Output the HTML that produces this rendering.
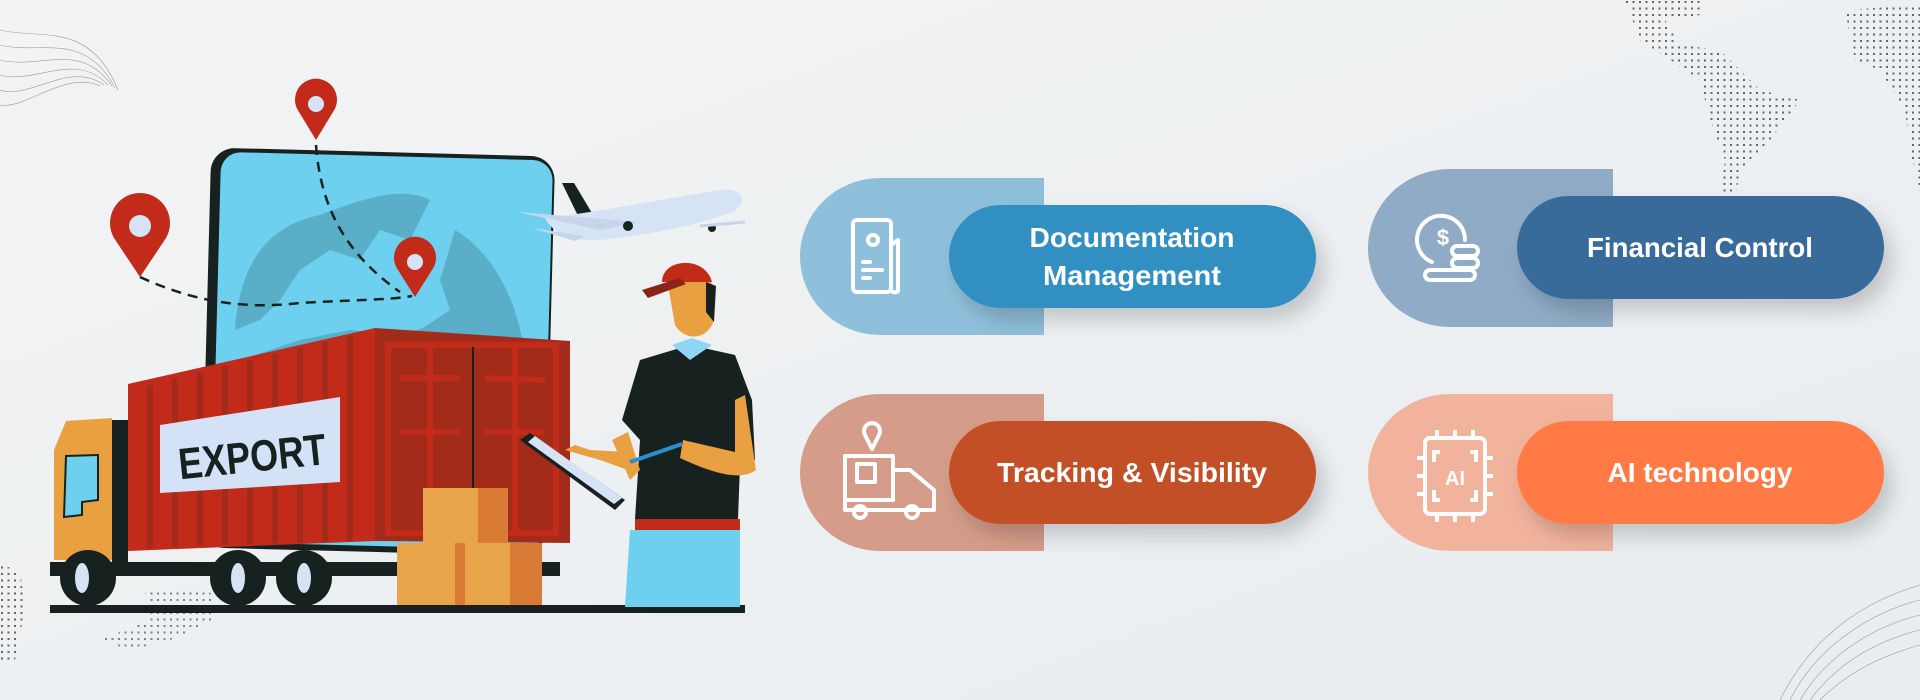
<!DOCTYPE html>
<html><head><meta charset="utf-8">
<style>
html,body{margin:0;padding:0;width:1920px;height:700px;overflow:hidden;background:#eef1f3;}
.t{font-family:"Liberation Sans",sans-serif;font-weight:bold;fill:#fff;}
</style></head>
<body>
<svg width="1920" height="700" viewBox="0 0 1920 700" xmlns="http://www.w3.org/2000/svg">
<defs>
<pattern id="dots" width="6.5" height="6.5" patternUnits="userSpaceOnUse"><rect x="1" y="1" width="2" height="2" fill="#666"/></pattern>
<linearGradient id="bg" x1="0" y1="0" x2="1" y2="1"><stop offset="0" stop-color="#f2f3f4"/><stop offset="1" stop-color="#e8edf0"/></linearGradient>
<filter id="sh" x="-20%" y="-20%" width="140%" height="160%"><feDropShadow dx="8" dy="12" stdDeviation="10" flood-color="#000" flood-opacity="0.18"/></filter>
</defs>
<rect width="1920" height="700" fill="url(#bg)"/>

<!-- decorations -->
<g stroke="#777" stroke-width="0.6" fill="none" opacity="0.7">
<path d="M0 30 C40 40 90 20 118 90"/><path d="M0 45 C40 55 85 30 115 88"/><path d="M0 60 C40 70 80 40 112 86"/><path d="M0 75 C35 85 75 50 108 85"/><path d="M0 90 C30 100 70 60 104 85"/><path d="M0 105 C25 110 65 70 100 86"/>
<path d="M1920 600 C1880 610 1820 640 1790 700"/><path d="M1920 615 C1880 625 1830 650 1800 700"/><path d="M1920 630 C1880 640 1840 660 1810 700"/><path d="M1920 645 C1885 655 1850 670 1820 700"/><path d="M1920 585 C1870 600 1815 630 1780 700"/>
</g>
<path d="M1625 0 L1700 0 L1700 15 L1665 20 L1680 45 L1720 50 L1760 90 L1800 100 L1770 140 L1740 170 L1735 200 L1720 200 L1725 160 L1710 120 L1700 80 L1670 60 L1640 40 Z" fill="url(#dots)"/>
<path d="M1845 10 L1920 5 L1920 190 L1910 150 L1905 110 L1880 70 L1855 60 Z" fill="url(#dots)"/>
<path d="M0 565 L20 570 L25 610 L15 660 L0 660 Z" fill="url(#dots)"/>
<path d="M145 590 L210 590 L215 620 L170 640 L130 650 L100 640 L150 620 Z" fill="url(#dots)" opacity="0.8"/>

<!-- monitor -->
<rect x="206" y="152" width="344" height="400" rx="24" fill="#172220" transform="rotate(1.5 378 350)"/>
<rect x="216" y="156" width="332" height="390" rx="20" fill="#6dd0ef" transform="rotate(1.5 378 350)"/>
<clipPath id="mc"><rect x="216" y="156" width="332" height="390" rx="20" transform="rotate(1.5 378 350)"/></clipPath>
<g clip-path="url(#mc)" fill="#5aaec8">
<path d="M235 330 C240 260 270 225 320 215 C360 200 400 185 430 200 L410 240 L380 230 L360 260 L330 250 L300 270 L280 300 L260 320 Z"/>
<path d="M455 230 C490 250 520 300 525 360 L480 380 L440 370 L420 330 L450 310 L440 280 Z"/>
<path d="M240 360 L300 340 L350 330 L400 335 L450 320 L500 340 L520 400 L240 410 Z"/>
</g>
<!-- dashed routes -->
<path d="M140 277 C190 300 240 310 300 303 C350 300 390 300 412 296" stroke="#172220" stroke-width="2.5" fill="none" stroke-dasharray="10 7"/>
<path d="M316 145 C320 200 340 250 400 292" stroke="#172220" stroke-width="2.5" fill="none" stroke-dasharray="10 7"/>
<!-- pins -->
<g fill="#c22a1a">
<path d="M316 140 L299 112 A21 21 0 1 1 333 112 Z"/><circle cx="316" cy="104" r="8" fill="#d6e3f5"/>
<path d="M140 277 L114 238 A30 30 0 1 1 166 238 Z"/><circle cx="140" cy="226" r="11" fill="#d6e3f5"/>
<path d="M415 297 L398 270 A21 21 0 1 1 432 270 Z"/><circle cx="415" cy="262" r="8" fill="#d6e3f5"/>
</g>
<!-- plane -->
<g>
<path d="M562 183 L574 183 L595 218 L580 220 Z" fill="#172220"/>
<path d="M545 218 C600 212 680 196 720 190 C742 187 748 200 736 210 C700 226 640 236 600 240 C570 242 552 232 545 218 Z" fill="#d6e3f5"/>
<path d="M517 212 L640 222 L600 230 Z" fill="#c8d4ea"/>
<path d="M532 228 L585 236 L575 241 Z" fill="#c8d4ea"/>
<circle cx="628" cy="226" r="5" fill="#172220"/><circle cx="712" cy="228" r="4" fill="#172220"/>
<path d="M700 226 L745 222" stroke="#c8d4ea" stroke-width="3"/>
</g>
<!-- container -->
<path d="M128 384 L375 328 L375 541 L128 551 Z" fill="#c22a1a"/>
<g stroke="#a32b1a" stroke-width="6">
<line x1="150" y1="385" x2="150" y2="548"/><line x1="175" y1="378" x2="175" y2="547"/><line x1="200" y1="372" x2="200" y2="546"/><line x1="225" y1="366" x2="225" y2="545"/><line x1="250" y1="360" x2="250" y2="544"/><line x1="275" y1="354" x2="275" y2="543"/><line x1="300" y1="348" x2="300" y2="543"/><line x1="325" y1="342" x2="325" y2="542"/><line x1="350" y1="336" x2="350" y2="541"/>
</g>
<path d="M375 328 L570 341 L570 543 L375 541 Z" fill="#a32b1a"/>
<g stroke="#c22a1a" stroke-width="6" fill="none">
<rect x="388" y="345" width="168" height="188"/>
<line x1="430" y1="345" x2="430" y2="533"/><line x1="515" y1="345" x2="515" y2="533"/>
<line x1="400" y1="378" x2="460" y2="378"/><line x1="485" y1="378" x2="545" y2="380"/>
<line x1="400" y1="432" x2="460" y2="432"/><line x1="485" y1="432" x2="545" y2="432"/>
</g>
<line x1="473" y1="347" x2="473" y2="533" stroke="#172220" stroke-width="2"/>
<path d="M160 425 L340 397 L340 482 L160 493 Z" fill="#d4e2f7"/>
<text x="178" y="472" font-family="Liberation Sans,sans-serif" font-weight="bold" font-size="44" fill="#172220" textLength="148" lengthAdjust="spacingAndGlyphs" transform="rotate(-6 250 455)">EXPORT</text>
<!-- cab -->
<path d="M66 421 L112 418 L112 560 L54 560 L54 450 Z" fill="#e8a040"/>
<path d="M66 456 L98 455 L98 500 L82 502 L82 515 L64 517 Z" fill="#6dd0ef" stroke="#172220" stroke-width="2"/>
<rect x="112" y="420" width="16" height="142" fill="#172220"/>
<rect x="50" y="562" width="510" height="14" fill="#172220"/>
<g fill="#172220"><circle cx="88" cy="578" r="28"/><circle cx="238" cy="578" r="28"/><circle cx="304" cy="578" r="28"/></g>
<g fill="#d6e3f5"><ellipse cx="82" cy="578" rx="7" ry="15"/><ellipse cx="238" cy="578" rx="7" ry="15"/><ellipse cx="304" cy="578" rx="7" ry="15"/></g>
<!-- boxes -->
<rect x="423" y="488" width="85" height="55" fill="#e8a448"/><rect x="478" y="488" width="30" height="55" fill="#d97a35"/>
<rect x="397" y="543" width="145" height="64" fill="#e8a448"/><rect x="455" y="543" width="10" height="64" fill="#d97a35"/><rect x="510" y="543" width="32" height="64" fill="#d97a35"/>
<!-- ground -->
<rect x="50" y="605" width="695" height="8" fill="#172220"/>
<!-- man -->
<path d="M622 420 L640 360 L690 345 L735 355 L752 400 L755 460 L740 465 L738 519 L635 519 L640 440 Z" fill="#172220"/>
<path d="M672 345 L692 338 L712 345 L690 360 Z" fill="#8fd5f5"/>
<path d="M745 395 L756 470 C740 482 710 472 680 458 L683 440 L735 452 L735 400 Z" fill="#e8a040"/>
<path d="M612 440 L628 432 L640 470 L630 480 Z" fill="#e8a040"/>
<path d="M530 433 L625 500 L615 510 L520 440 Z" fill="#172220"/><path d="M535 436 L622 498 L614 504 L528 442 Z" fill="#d6e3f5"/>
<path d="M628 452 L590 450 L575 445 L565 450 L600 460 L628 470 Z" fill="#e8a040"/>
<line x1="630" y1="462" x2="682" y2="444" stroke="#2c8fd0" stroke-width="4"/>
<path d="M668 285 C668 265 705 262 712 285 L714 320 C708 340 685 342 675 325 Z" fill="#e8a040"/>
<path d="M662 282 C662 258 705 255 712 282 Z" fill="#c22a1a"/><path d="M642 290 L680 278 L686 284 L648 298 Z" fill="#8c2418"/>
<path d="M706 282 L716 286 L714 322 L706 312 Z" fill="#172220"/>
<rect x="635" y="519" width="105" height="11" fill="#c22a1a"/>
<path d="M630 530 L740 530 L740 607 L625 607 Z" fill="#6dd0ef"/>

<!-- cards -->
<g>
<path d="M1044 178 L880 178 A80 78.5 0 0 0 880 335 L1044 335 Z" fill="#8fc0db"/>
<rect x="949" y="205" width="367" height="103" rx="51.5" fill="#318fc1" filter="url(#sh)"/>
<text class="t" x="1132" y="247" font-size="28" text-anchor="middle" textLength="205" lengthAdjust="spacingAndGlyphs">Documentation</text>
<text class="t" x="1132" y="285" font-size="28" text-anchor="middle" textLength="178" lengthAdjust="spacingAndGlyphs">Management</text>
<g stroke="#fff" stroke-width="4" fill="none" stroke-linecap="round" stroke-linejoin="round">
<rect x="853" y="220" width="38" height="72" rx="4"/><path d="M891 245 L898 240 L898 290 Q898 293 893 292"/><circle cx="873" cy="240" r="5"/><line x1="863" y1="262" x2="870" y2="262"/><line x1="863" y1="270" x2="882" y2="270"/><line x1="863" y1="278" x2="870" y2="278"/>
</g>
</g>
<g>
<path d="M1613 169 L1450 169 A82 79 0 0 0 1450 327 L1613 327 Z" fill="#8fabc6"/>
<rect x="1517" y="196" width="367" height="103" rx="51.5" fill="#386b9a" filter="url(#sh)"/>
<text class="t" x="1700" y="257" font-size="28" text-anchor="middle" textLength="226" lengthAdjust="spacingAndGlyphs">Financial Control</text>
<g stroke="#fff" stroke-width="4" fill="none" stroke-linecap="round">
<path d="M1432 262 A24 24 0 1 1 1465 240"/>
<text x="1443" y="245" font-family="Liberation Sans,sans-serif" font-size="22" fill="#fff" stroke="none" text-anchor="middle" font-weight="bold">$</text>
<rect x="1425" y="270" width="50" height="10" rx="5"/><rect x="1452" y="258" width="26" height="10" rx="5"/><rect x="1452" y="246" width="26" height="10" rx="5"/>
</g>
</g>
<g>
<path d="M1044 394 L880 394 A80 78.5 0 0 0 880 551 L1044 551 Z" fill="#d69c8a"/>
<rect x="949" y="421" width="367" height="103" rx="51.5" fill="#c24f26" filter="url(#sh)"/>
<text class="t" x="1132" y="482" font-size="28" text-anchor="middle" textLength="270" lengthAdjust="spacingAndGlyphs">Tracking &amp; Visibility</text>
<g stroke="#fff" stroke-width="4" fill="none" stroke-linejoin="round">
<path d="M872 449 L865 435 A8 8 0 1 1 879 435 Z"/>
<rect x="845" y="456" width="48" height="44"/><path d="M893 470 L910 470 L934 490 L934 510 L845 510 L845 500"/><rect x="857" y="464" width="18" height="18"/>
<circle cx="860" cy="512" r="6"/><circle cx="912" cy="512" r="6"/>
</g>
</g>
<g>
<path d="M1613 394 L1450 394 A82 78.5 0 0 0 1450 551 L1613 551 Z" fill="#f2b39d"/>
<rect x="1517" y="421" width="367" height="103" rx="51.5" fill="#ff7a45" filter="url(#sh)"/>
<text class="t" x="1700" y="482" font-size="28" text-anchor="middle" textLength="185" lengthAdjust="spacingAndGlyphs">AI technology</text>
<g stroke="#fff" stroke-width="4" fill="none">
<rect x="1425" y="438" width="60" height="76" rx="5"/>
<path d="M1440 452 L1434 452 L1434 462 M1470 452 L1476 452 L1476 462 M1440 500 L1434 500 L1434 490 M1470 500 L1476 500 L1476 490"/>
<path d="M1437 430 V438 M1455 430 V438 M1473 430 V438 M1437 514 V522 M1455 514 V522 M1473 514 V522 M1417 458 H1425 M1417 476 H1425 M1417 494 H1425 M1485 458 H1493 M1485 476 H1493 M1485 494 H1493"/>
<text x="1455" y="485" font-family="Liberation Sans,sans-serif" font-size="20" font-weight="bold" fill="#fff" stroke="none" text-anchor="middle">AI</text>
</g>
</g>
</svg>
</body></html>
